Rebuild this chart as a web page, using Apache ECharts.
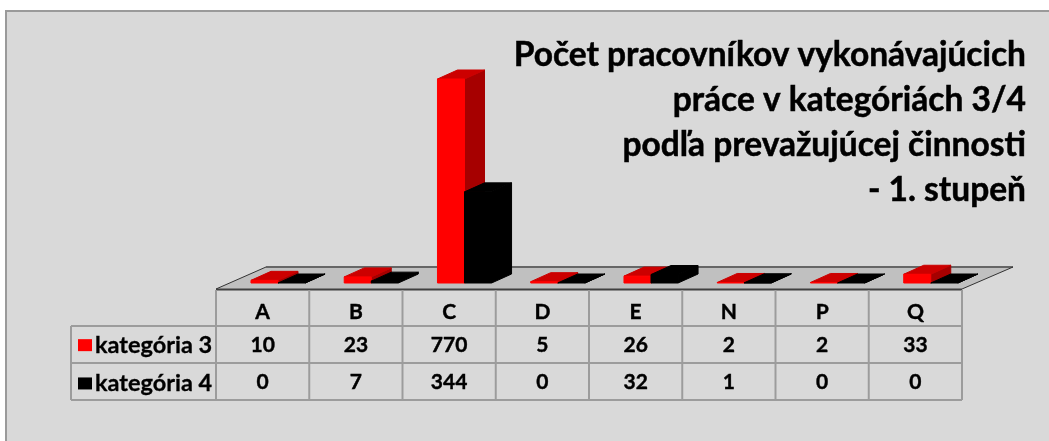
<!DOCTYPE html>
<html>
<head>
<meta charset="utf-8">
<style>html,body{margin:0;padding:0;background:#fff}#c{width:1049px;height:441px}</style>
<script src="https://cdn.jsdelivr.net/npm/echarts@6/dist/echarts.min.js"></script>
</head>
<body>
<div id="c"></div>
<script>
var categories = ['A','B','C','D','E','N','P','Q'];
var kategoria3 = [10,23,770,5,26,2,2,33];
var kategoria4 = [0,7,344,0,32,1,0,0];
var name3 = 'kategória 3';
var name4 = 'kategória 4';
var titleText = 'Počet pracovníkov vykonávajúcich\npráce v kategóriách 3/4\npodľa prevažujúcej činnosti\n- 1. stupeň';

var FONT = 'Lato, "Open Sans", sans-serif';
var GRID_LEFT = 216, GRID_RIGHT = 962, BASE_Y = 283, TOP_Y = 79;
var DX = 20, DY = -9;

function bar3d(startFrac, front, top, side) {
  return function (params, api) {
    var i = api.value(0), v = api.value(1);
    var band = api.size([1, 0])[0];
    var c = api.coord([i, v]), b = api.coord([i, 0]);
    var x0 = c[0] + startFrac * band, w = band * 0.29, x1 = x0 + w;
    var yT = c[1], yB = b[1];
    var kids = [];
    kids.push({type:'polygon', shape:{points:[[x1,yT],[x1+DX,yT+DY],[x1+DX,yB+DY],[x1,yB]]}, style:{fill:side,stroke:side,lineWidth:1}});
    kids.push({type:'polygon', shape:{points:[[x0,yT],[x0+DX,yT+DY],[x1+DX,yT+DY],[x1,yT]]}, style:{fill:top,stroke:top,lineWidth:1}});
    if (yB - yT > 0) kids.push({type:'rect', shape:{x:x0,y:yT,width:w,height:yB-yT}, style:{fill:front,stroke:front,lineWidth:1}});
    return {type:'group', children:kids};
  };
}
function seriesData(arr){ return arr.map(function(v,i){return [i,v];}); }

var graphics = [];
function line(x1,y1,x2,y2,color,lw,z){
  graphics.push({type:'line', z:z||1, silent:true, shape:{x1:x1,y1:y1,x2:x2,y2:y2}, style:{stroke:color,lineWidth:lw}});
}
// panel
graphics.push({type:'rect', z:-10, silent:true, shape:{x:6,y:11,width:1060,height:450}, style:{fill:'#d9d9d9',stroke:'#9a9a9a',lineWidth:2}});
// floor
graphics.push({type:'polygon', z:-5, silent:true, shape:{points:[[216,289],[266,267],[1013,267],[962,289]]}, style:{fill:'#c0c0c0'}});
line(266,267,1013,267,'#666666',2,-4);
line(216,289.5,962,289.5,'#404040',2,-4);
line(216,289,266,267,'#333333',1,-4);
line(962,289,1013,267,'#333333',1,-4);
// table lines
var TBL = '#9c9c9c';
var band = (GRID_RIGHT-GRID_LEFT)/categories.length;
[326,363,400].forEach(function(y){ line(71,y,GRID_RIGHT,y,TBL,2); });
line(71,326,71,400,TBL,2);
for (var k=0;k<=categories.length;k++){ line(GRID_LEFT+band*k, 290, GRID_LEFT+band*k, 400, TBL, 2); }
// table values
[[kategoria3,345],[kategoria4,382]].forEach(function(row){
  row[0].forEach(function(v,i){
    graphics.push({type:'text', z:3, silent:true, x:GRID_LEFT+band*(i+0.5), y:row[1],
      style:{text:String(v), fill:'#000', stroke:'#000', lineWidth:0.4, font:'bold 21px '+FONT, align:'center', verticalAlign:'middle'}});
  });
});

var option = {
  animation:false,
  backgroundColor:'#fff',
  title:{text:titleText, left:1021, top:28, textAlign:'right',
    textStyle:{fontFamily:FONT,fontWeight:'bold',fontSize:33.5,lineHeight:45,color:'#000',align:'right',textBorderColor:'#000',textBorderWidth:0.5}},
  legend:{data:[name3,name4], orient:'vertical', left:73, top:328, itemWidth:14, itemHeight:12, itemGap:14,
    selectedMode:false, icon:'rect', textStyle:{fontFamily:FONT,fontWeight:'bold',fontSize:23.5,color:'#000',padding:[0,0,0,-2],textBorderColor:'#000',textBorderWidth:0.3}},
  grid:{left:GRID_LEFT, top:TOP_Y, width:GRID_RIGHT-GRID_LEFT, height:BASE_Y-TOP_Y},
  xAxis:{type:'category', data:categories, axisLine:{show:false}, axisTick:{show:false}, splitLine:{show:false},
    axisLabel:{margin:19,color:'#000',fontFamily:FONT,fontWeight:'bold',fontSize:21,textBorderColor:'#000',textBorderWidth:0.4}},
  yAxis:{type:'value', min:0, max:770, show:false},
  series:[
    {name:name3, type:'custom', data:seriesData(kategoria3), itemStyle:{color:'#ff0000'},
      renderItem:bar3d(-0.125,'#ff0000','#cc0000','#a60000'), encode:{x:0,y:1}},
    {name:name4, type:'custom', data:seriesData(kategoria4), itemStyle:{color:'#000000'},
      renderItem:bar3d(0.165,'#000000','#000000','#000000'), encode:{x:0,y:1}}
  ],
  graphic:{elements:graphics}
};
echarts.init(document.getElementById('c'),null,{renderer:'canvas'}).setOption(option);
</script>
</body>
</html>
